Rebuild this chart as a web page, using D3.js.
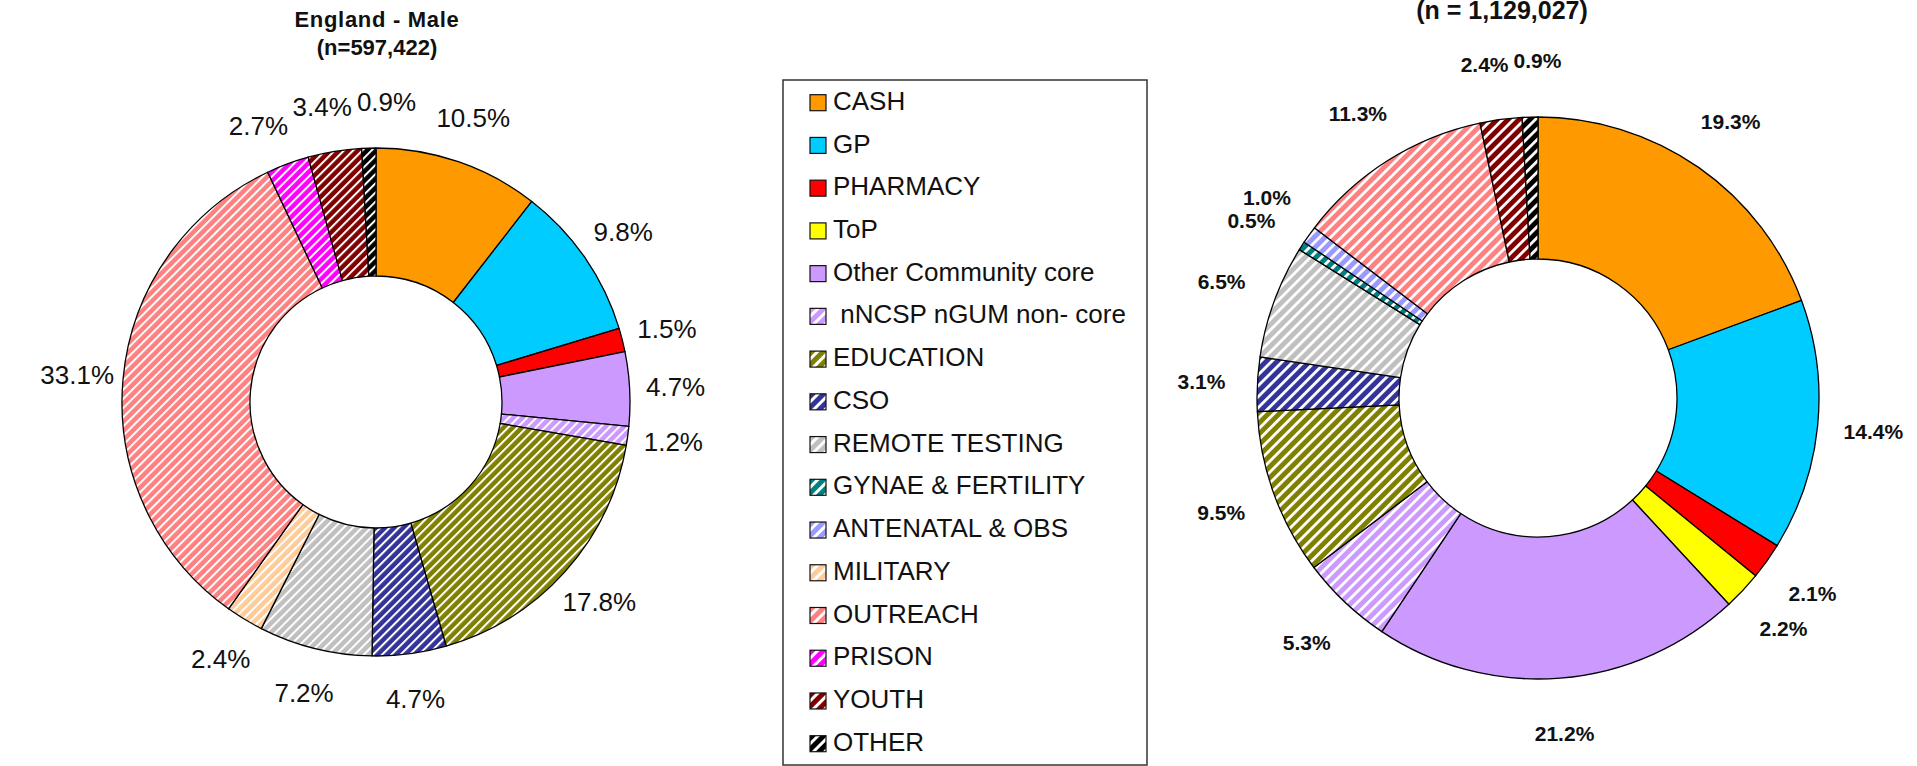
<!DOCTYPE html>
<html>
<head>
<meta charset="utf-8">
<script src="https://cdn.jsdelivr.net/npm/d3@7"></script>
<style>
  body { margin: 0; background: #fff; }
  svg { display: block; }
  text { font-family: 'Liberation Sans', Arial, sans-serif; }
</style>
</head>
<body>
<div id="chart"></div>
<script>
// Service categories, in the order they go round the rings (clockwise from 12 o'clock)
const categories = [
  'CASH', 'GP', 'PHARMACY', 'ToP', 'Other Community core', ' nNCSP nGUM non- core',
  'EDUCATION', 'CSO', 'REMOTE TESTING', 'GYNAE & FERTILITY', 'ANTENATAL & OBS',
  'MILITARY', 'OUTREACH', 'PRISON', 'YOUTH', 'OTHER'
];
const colors = [
  '#ff9900', '#00ccff', '#ff0000', '#ffff00', '#cc99ff', '#cc99ff',
  '#808000', '#333399', '#c0c0c0', '#008080', '#9999ff',
  '#ffcc99', '#ff8080', '#ff00ff', '#800000', '#000000'
];
// Which categories are drawn with white diagonal stripes
const hatched = [
  false, false, false, false, false, true,
  true, true, true, true, true,
  true, true, true, true, true
];

// Percent of tests per category
const maleValues = [10.5, 9.8, 1.5, 0, 4.7, 1.2, 17.8, 4.7, 7.2, 0, 0, 2.4, 33.1, 2.7, 3.4, 0.9];
const femaleValues = [19.3, 14.4, 2.1, 2.2, 21.2, 5.3, 9.5, 3.1, 6.5, 0.5, 1.0, 0, 11.3, 0, 2.4, 0.9];

const maleTitle = ['England - Male', '(n=597,422)'];
const femaleTitle = ['(n = 1,129,027)'];

const svg = d3.select('#chart').append('svg')
  .attr('width', 1917)
  .attr('height', 766);
const defs = svg.append('defs');

// Diagonal white stripes over the category colour
function addHatch(id, color, period, stripe) {
  let p = defs.append('pattern')
    .attr('id', id)
    .attr('patternUnits', 'userSpaceOnUse')
    .attr('width', period)
    .attr('height', period)
    .attr('patternTransform', 'rotate(45)');
  p.append('rect').attr('width', period).attr('height', period).attr('fill', color);
  p.append('rect').attr('width', stripe).attr('height', period).attr('fill', '#fff');
}

class DonutChart {
  constructor(_config, _values, _title) {
    this.config = {
      id: _config.id,
      cx: _config.cx,
      cy: _config.cy,
      outerRadius: _config.outerRadius,
      innerRadius: _config.innerRadius,
      labelRadius: _config.labelRadius,
      labelSize: _config.labelSize,
      labelWeight: _config.labelWeight,
      stripe: _config.stripe,
      title: _config.title
    };
    this.values = _values;
    this.titleLines = _title;
    this.initVis();
  }

  initVis() {
    let vis = this;
    categories.forEach((c, i) => {
      if (hatched[i]) addHatch(`hatch-${vis.config.id}-${i}`, colors[i], vis.config.stripe.period, vis.config.stripe.width);
    });
    vis.g = svg.append('g').attr('transform', `translate(${vis.config.cx}, ${vis.config.cy})`);
    vis.renderVis();
  }

  renderVis() {
    let vis = this;
    let data = categories.map((name, i) => ({ name: name, value: vis.values[i], idx: i }));

    let pie = d3.pie().sort(null).value(d => d.value);
    let arcs = pie(data).filter(d => d.data.value > 0);

    let arc = d3.arc()
      .innerRadius(vis.config.innerRadius)
      .outerRadius(vis.config.outerRadius);
    let labelArc = d3.arc()
      .innerRadius(vis.config.labelRadius)
      .outerRadius(vis.config.labelRadius);

    let fill = i => hatched[i] ? `url(#hatch-${vis.config.id}-${i})` : colors[i];

    vis.g.selectAll('path.slice')
      .data(arcs)
      .join('path')
        .attr('class', 'slice')
        .attr('d', arc)
        .attr('fill', d => fill(d.data.idx))
        .attr('stroke', '#000')
        .attr('stroke-width', 1.3)
        .attr('stroke-linejoin', 'round');

    let fmt = d3.format('.1f');
    let labels = vis.g.selectAll('text.pct')
      .data(arcs)
      .join('text')
        .attr('class', 'pct')
        .attr('text-anchor', 'middle')
        .attr('dy', '0.35em')
        .attr('font-size', vis.config.labelSize)
        .attr('font-weight', vis.config.labelWeight)
        .attr('fill', '#111')
        .text(d => fmt(d.data.value) + '%');

    // Start every label on the label ring, then slide colliding neighbours
    // apart along the ring's tangent
    let boxes = [];
    labels.each(function(d) {
      let c = labelArc.centroid(d);
      let a = (d.startAngle + d.endAngle) / 2;
      boxes.push({ x: c[0], y: c[1], a: a, w: this.getComputedTextLength() + 4, h: vis.config.labelSize * 1.05 });
    });
    const overlaps = (p, q) =>
      (p.w + q.w) / 2 - Math.abs(q.x - p.x) > 0 && (p.h + q.h) / 2 - Math.abs(q.y - p.y) > 0;
    for (let iter = 0; iter < 300; iter++) {
      let moved = false;
      for (let i = 0; i < boxes.length; i++) {
        for (let j = i + 1; j < boxes.length; j++) {
          let a = boxes[i], b = boxes[j];
          if (!overlaps(a, b)) continue;
          moved = true;
          // the one further clockwise moves forward
          let back = a, fwd = b;
          if (b.a - a.a > Math.PI) { back = b; fwd = a; }
          back.x -= Math.cos(back.a); back.y -= Math.sin(back.a);
          fwd.x += Math.cos(fwd.a); fwd.y += Math.sin(fwd.a);
        }
      }
      if (!moved) break;
    }
    labels.attr('transform', (d, i) => `translate(${boxes[i].x}, ${boxes[i].y})`);

    // Title lines above the ring
    svg.selectAll(`text.title-${vis.config.id}`)
      .data(vis.titleLines)
      .join('text')
        .attr('class', `title-${vis.config.id}`)
        .attr('x', vis.config.title.x)
        .attr('y', (d, i) => vis.config.title.y + i * vis.config.title.step)
        .attr('text-anchor', 'middle')
        .attr('font-size', vis.config.title.size)
        .attr('font-weight', 'bold')
        .attr('letter-spacing', (d, i) => i === 0 ? vis.config.title.spacing : 0)
        .attr('fill', '#111')
        .text(d => d);
  }
}

const maleChart = new DonutChart({
  id: 'male', cx: 376, cy: 402, outerRadius: 254, innerRadius: 126, labelRadius: 300,
  labelSize: 26, labelWeight: 'normal', stripe: { period: 6.5, width: 2 },
  title: { x: 377, y: 27, step: 28, size: 22, spacing: 0.7 }
}, maleValues, maleTitle);

const femaleChart = new DonutChart({
  id: 'female', cx: 1538, cy: 398, outerRadius: 281, innerRadius: 139, labelRadius: 337,
  labelSize: 21, labelWeight: 'bold', stripe: { period: 7.7, width: 2.8 },
  title: { x: 1502, y: 19, step: 28, size: 25, spacing: 0 }
}, femaleValues, femaleTitle);

// Legend shared by both rings
const legend = { x: 783, y: 80, width: 364, height: 685, first: 100.7, last: 741.7 };
categories.forEach((c, i) => {
  if (hatched[i]) addHatch(`hatch-legend-${i}`, colors[i], 8, 3);
});
const legendG = svg.append('g');
legendG.append('rect')
  .attr('x', legend.x)
  .attr('y', legend.y)
  .attr('width', legend.width)
  .attr('height', legend.height)
  .attr('fill', '#fff')
  .attr('stroke', '#333')
  .attr('stroke-width', 1.5);

const legendY = d3.scalePoint()
  .domain(categories)
  .range([legend.first, legend.last]);

const items = legendG.selectAll('g.item')
  .data(categories)
  .join('g')
    .attr('class', 'item')
    .attr('transform', d => `translate(${legend.x + 27}, ${legendY(d)})`);

items.append('rect')
  .attr('x', 0)
  .attr('y', -6)
  .attr('width', 16)
  .attr('height', 16)
  .attr('fill', (d, i) => hatched[i] ? `url(#hatch-legend-${i})` : colors[i])
  .attr('stroke', '#111')
  .attr('stroke-width', 1.2);

items.append('text')
  .attr('x', 23)
  .attr('dy', '0.35em')
  .attr('font-size', 26)
  .attr('fill', '#111')
  .style('white-space', 'pre')
  .text(d => d);
</script>
</body>
</html>
